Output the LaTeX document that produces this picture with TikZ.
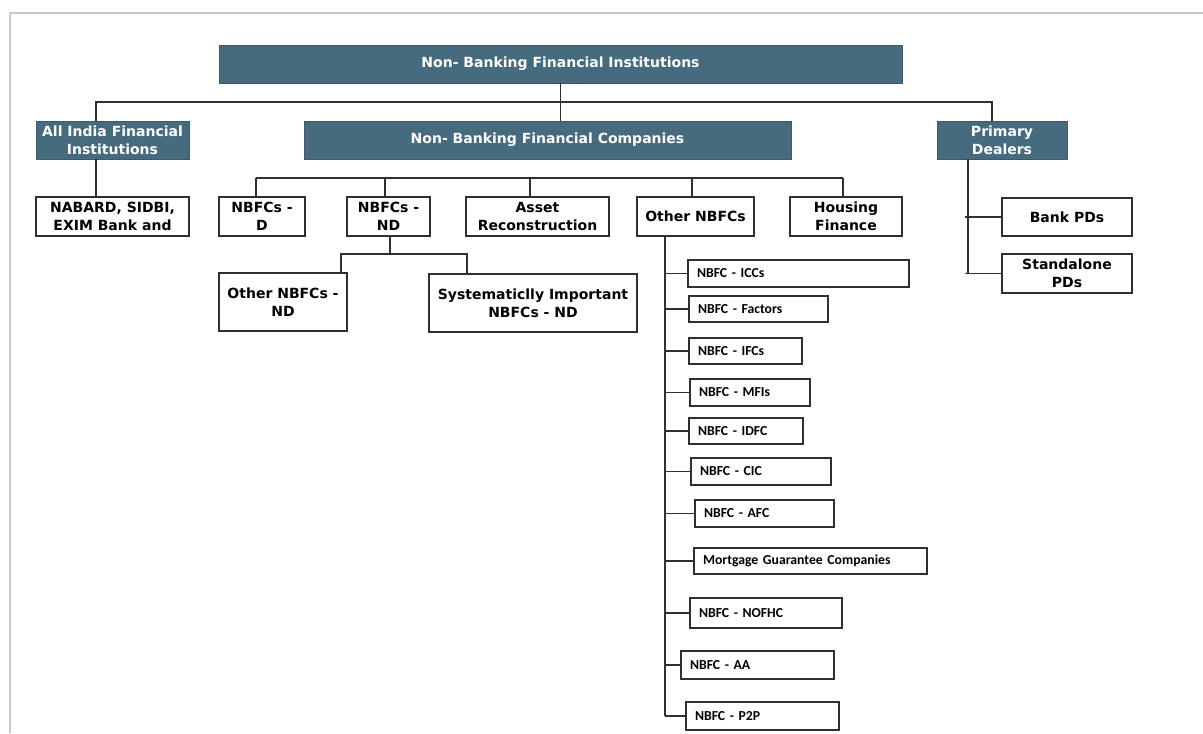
\documentclass[tikz,border=0pt]{standalone}
\usepackage{fontspec}
\setmainfont{DejaVu Sans}
\newfontfamily\calfont{Carlito}
\definecolor{slate}{HTML}{466A7E}
\definecolor{framegray}{HTML}{C8C8C8}
\definecolor{ink}{HTML}{303030}
\tikzset{
  darkbox/.style={fill=slate, draw=slate!85!black, line width=0.6pt, text=white,
    font=\bfseries\fontsize{10.5}{13.5}\selectfont, align=center, inner sep=0pt},
  whitebox/.style={draw=ink, line width=1.1pt, fill=white,
    font=\bfseries\fontsize{10.5}{13.5}\selectfont, align=center, inner sep=0pt},
  listbox/.style={draw=ink, line width=1.1pt, fill=white,
    font=\calfont\bfseries\fontsize{10.3}{12}\selectfont, align=left, inner sep=0pt},
  link/.style={draw=ink, line width=1pt},
  framerule/.style={draw=framegray, line width=1.6pt},
}
\newcommand\mkbox[7]{%
  \pgfmathsetmacro\myBW{(#4-#2)*0.75}\pgfmathsetmacro\myBH{(#5-#3)*0.75}%
  \node[#6, minimum width=\myBW pt, minimum height=\myBH pt] (#1) at ({(#2+#4)/2},{(#3+#5)/2}) {#7};}
\newcommand\mklist[6]{%
  \pgfmathsetmacro\myBW{(#4-#2)*0.75}\pgfmathsetmacro\myBH{(#5-#3)*0.75}\pgfmathsetmacro\myTW{(#4-#2-18)*0.75}%
  \node[listbox, minimum width=\myBW pt, minimum height=\myBH pt, text width=\myTW pt] (#1) at ({(#2+#4)/2},{(#3+#5)/2}) {#6};}
\begin{document}
\begin{tikzpicture}[x=0.75pt, y=-0.75pt]
\useasboundingbox (0,0) rectangle (1203,733);
% frame
\draw[framerule] (10,733) -- (10,13) -- (1203,13);

% level 1
\mkbox{nbfi}{219}{45}{902}{83}{darkbox}{Non- Banking Financial Institutions}
% level 2
\mkbox{aifi}{36}{121}{189}{159}{darkbox}{All India Financial\\Institutions}
\mkbox{nbfc}{304}{121}{791}{159}{darkbox}{Non- Banking Financial Companies}
\mkbox{pd}{937}{121}{1067}{159}{darkbox}{Primary\\Dealers}
% level 3
\mkbox{nab}{36}{197}{189}{236}{whitebox}{NABARD, SIDBI,\\EXIM Bank and}
\mkbox{nd0}{219}{197}{305}{236}{whitebox}{NBFCs -\\D}
\mkbox{nnd}{347}{197}{430}{236}{whitebox}{NBFCs -\\ND}
\mkbox{arc}{466}{197}{609}{236}{whitebox}{Asset\\Reconstruction}
\mkbox{oth}{637}{197}{754}{236}{whitebox}{Other NBFCs}
\mkbox{hfc}{790}{197}{902}{236}{whitebox}{Housing\\Finance}
\mkbox{bpd}{1002}{198}{1132}{236}{whitebox}{Bank PDs}
\mkbox{spd}{1002}{254}{1132}{293}{whitebox}{Standalone\\PDs}
% level 4
\mkbox{ond}{219}{273}{347}{331}{whitebox}{Other NBFCs -\\ND}
\mkbox{sind}{429}{274}{637}{332}{whitebox}{Systematiclly Important\\NBFCs - ND}
% list
\mklist{icc}{688}{260}{909}{287}{NBFC - ICCs}
\mklist{fac}{689}{296}{828}{322}{NBFC - Factors}
\mklist{ifc}{689}{338}{802}{364}{NBFC - IFCs}
\mklist{mfi}{690}{379}{810}{406}{NBFC - MFIs}
\mklist{idfc}{689}{418}{803}{444}{NBFC - IDFC}
\mklist{cic}{691}{458}{831}{485}{NBFC - CIC}
\mklist{afc}{695}{500}{834}{527}{NBFC - AFC}
\mklist{mgc}{694}{548}{927}{574}{Mortgage Guarantee Companies}
\mklist{nofhc}{690}{598}{842}{628}{NBFC - NOFHC}
\mklist{aa}{681}{651}{834}{679}{NBFC - AA}
\mklist{ptp}{686}{702}{839}{730}{NBFC - P2P}

% connectors level 1
\coordinate (b1L) at (96,102);
\coordinate (b1R) at (992,102);
\draw[link] (nbfi.south) -- (nbfi.south |- nbfc.north);
\draw[link] (b1L |- aifi.north) -- (b1L) -- (b1R) -- (b1R |- pd.north);
\draw[link] (b1L |- aifi.south) -- (b1L |- nab.north);

% connectors NBFC companies
\coordinate (b2a) at (256,178);
\coordinate (b2b) at (385,178);
\coordinate (b2c) at (530,178);
\coordinate (b2d) at (692,178);
\coordinate (b2e) at (843,178);
\draw[link] (b2a) -- (b2e);
\draw[link] (b2a) -- (b2a |- nd0.north);
\draw[link] (b2b) -- (b2b |- nnd.north);
\draw[link] (b2c) -- (b2c |- arc.north);
\draw[link] (b2d) -- (b2d |- oth.north);
\draw[link] (b2e) -- (b2e |- hfc.north);

% NBFCs-ND children
\coordinate (ndm) at (390,254);
\coordinate (ndL) at (341,254);
\coordinate (ndR) at (467,254);
\draw[link] (ndm |- nnd.south) -- (ndm);
\draw[link] (ndL |- ond.north) -- (ndL) -- (ndR) -- (ndR |- sind.north);

% Other NBFCs list
\coordinate (osp) at (665,236);
\draw[link] (osp) -- (osp |- ptp.west);
\foreach \n in {icc,fac,ifc,mfi,idfc,cic,afc,mgc,nofhc,aa,ptp}
  \draw[link] (osp |- \n.west) -- (\n.west);

% Primary dealers
\coordinate (psp) at (968,159);
\draw[link] (psp) -- (psp |- spd.west);
\draw[link] ([xshift=-2.25pt]psp |- bpd.west) -- (bpd.west);
\draw[link] ([xshift=-2.25pt]psp |- spd.west) -- (spd.west);
\end{tikzpicture}
\end{document}
